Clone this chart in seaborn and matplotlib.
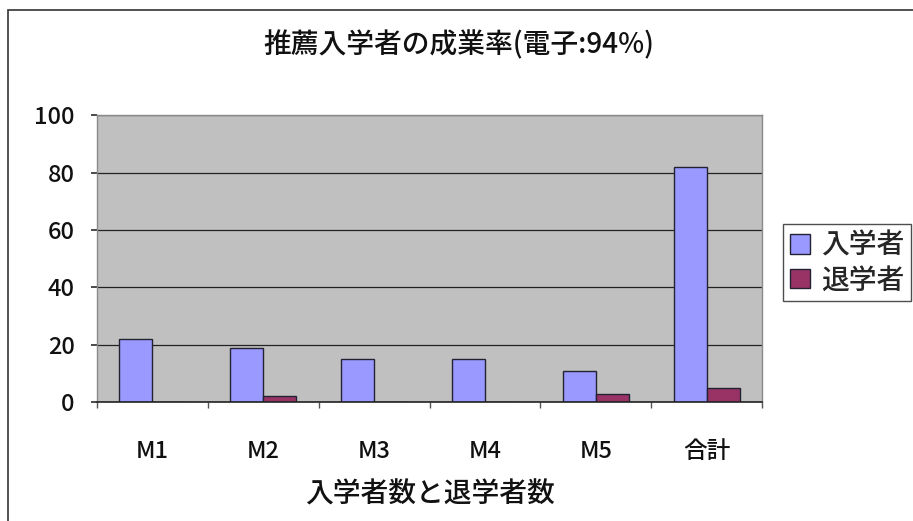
import matplotlib
matplotlib.use("Agg")
import matplotlib.pyplot as plt
import seaborn as sns
import pandas as pd
import numpy as np
from matplotlib.patches import Rectangle

categories = ["M1", "M2", "M3", "M4", "M5", "合計"]
enrolled = [22, 19, 15, 15, 11, 82]
withdrawn = [0, 2, 0, 0, 3, 5]
series_names = ["入学者", "退学者"]
title = "推薦入学者の成業率(電子:94%)"
xlabel = "入学者数と退学者数"
yticks = [0, 20, 40, 60, 80, 100]

sns.set_theme(style="white")
plt.rcParams['font.family'] = ['Noto Sans CJK JP', 'DejaVu Sans']

df = pd.DataFrame({
    "cat": categories * 2,
    "val": enrolled + withdrawn,
    "series": [series_names[0]] * len(categories) + [series_names[1]] * len(categories),
})

fig = plt.figure(figsize=(9.13, 5.21), dpi=100)
ax = fig.add_axes([0.106, 0.228, 0.729, 0.551])
ax.set_facecolor("#c0c0c0")

sns.barplot(data=df, x="cat", y="val", hue="series", order=categories,
            hue_order=series_names, palette=["#9999ff", "#993366"],
            width=0.6, edgecolor="#222233", linewidth=1.0, ax=ax,
            saturation=1, legend=False)

ax.set_ylim(0, 100)
ax.set_xlim(-0.5, len(categories) - 0.5)
ax.set_yticks(yticks)
ax.yaxis.grid(True, color="#222222", linewidth=0.9)
ax.set_axisbelow(True)
ax.tick_params(axis="y", labelsize=17, length=4, left=True, color="#333333", pad=12)
ax.tick_params(axis="x", labelsize=17, length=0, pad=27)
ax.set_xticks(np.arange(-0.5, len(categories), 1.0), minor=True)
ax.tick_params(axis="x", which="minor", bottom=True, length=4, color="#555555")
for s in ["left", "top", "right"]:
    ax.spines[s].set_color("#8a8a8a")
    ax.spines[s].set_linewidth(1.0)
ax.spines["bottom"].set_color("#222222")
ax.spines["bottom"].set_linewidth(1.2)
ax.set_xlabel(xlabel, fontsize=20, labelpad=12, color="#111111", fontweight="medium")
ax.set_ylabel("")
for lbl in ax.get_xticklabels() + ax.get_yticklabels():
    lbl.set_color("#111111")
    lbl.set_fontweight("medium")

fig.text(0.503, 0.915, title, ha="center", va="center", fontsize=20,
         color="#111111", fontweight="medium")

handles = [Rectangle((0, 0), 1, 1, facecolor=c, edgecolor="#222233", linewidth=1.0)
           for c in ["#9999ff", "#993366"]]
leg = fig.legend(handles, series_names, loc="center left",
                 bbox_to_anchor=(0.858, 0.496), frameon=True,
                 prop={"size": 20, "weight": "medium"},
                 fancybox=False, edgecolor="#222222", handlelength=0.7,
                 handleheight=0.7, handletextpad=0.4, borderpad=0.25,
                 labelspacing=0.2, borderaxespad=0)
leg.get_frame().set_linewidth(1.0)

fig.patches.append(Rectangle((0.009, -0.05), 1.1, 0.05 + 0.981, transform=fig.transFigure,
                             fill=False, edgecolor="#333333", linewidth=1.2))

fig.savefig("out.png", dpi=100)
